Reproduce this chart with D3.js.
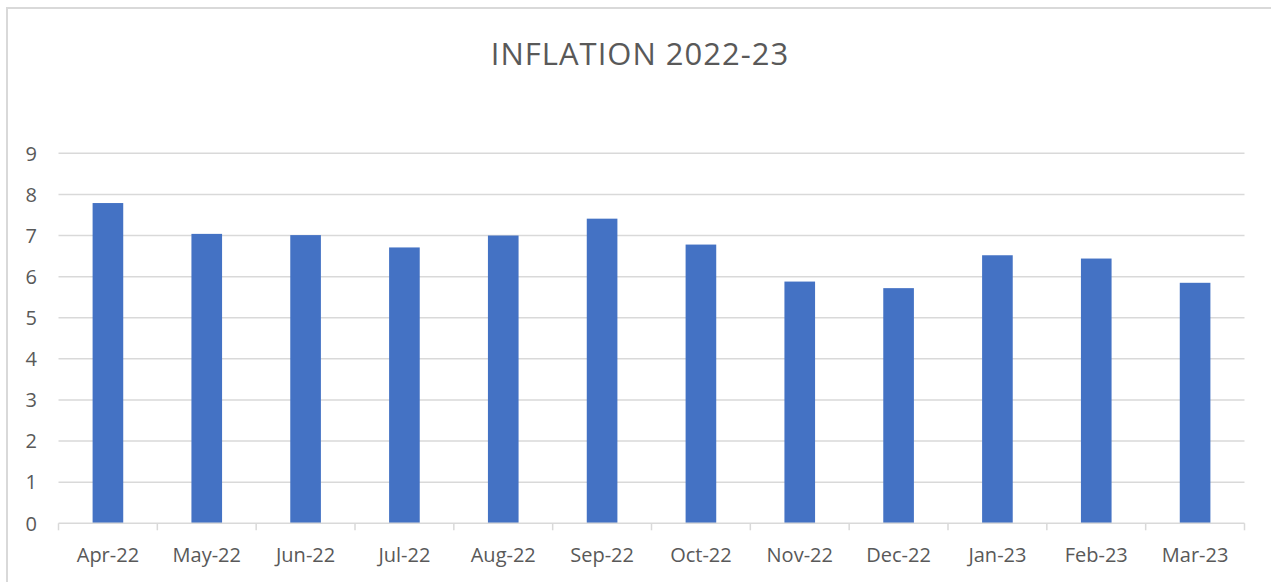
<!DOCTYPE html>
<html>
<head>
<meta charset="utf-8">
<script src="https://cdn.jsdelivr.net/npm/d3@7"></script>
<style>
  html, body { margin: 0; padding: 0; background: #ffffff; }
  svg { display: block; }
</style>
</head>
<body>
<div id="chart"></div>
<script>
const categories = ["Apr-22","May-22","Jun-22","Jul-22","Aug-22","Sep-22","Oct-22","Nov-22","Dec-22","Jan-23","Feb-23","Mar-23"];
const inflation = [7.79, 7.04, 7.01, 6.71, 7.00, 7.41, 6.78, 5.88, 5.72, 6.52, 6.44, 5.85];
const yTicks = [0,1,2,3,4,5,6,7,8,9];
const title = "INFLATION 2022-23";

const W = 1271, H = 582;
const mLeft = 58.5, mRight = 1244.5, mTop = 153.3, mBottom = 523.3;
const textColor = "#595959";
const gridColor = "#d9d9d9";
const barColor = "#4472c4";
const font = "'Open Sans', 'Noto Sans', sans-serif";

const svg = d3.select("#chart").append("svg").attr("width", W).attr("height", H);

// outer frame (partly cropped)
svg.append("rect").attr("x", 7).attr("y", 8).attr("width", W + 20).attr("height", H + 20)
  .attr("fill", "#fff").attr("stroke", gridColor).attr("stroke-width", 2);

const x = d3.scaleBand().domain(categories).range([mLeft, mRight]).paddingInner(0.69).paddingOuter(0.345);
const y = d3.scaleLinear().domain([0, 9]).range([mBottom, mTop]);

// gridlines
svg.append("g").selectAll("line").data(yTicks.filter(d => d > 0)).join("line")
  .attr("x1", mLeft).attr("x2", mRight)
  .attr("y1", d => y(d)).attr("y2", d => y(d))
  .attr("stroke", gridColor).attr("stroke-width", 1.5);

// y labels
svg.append("g").selectAll("text").data(yTicks).join("text")
  .attr("x", 37).attr("y", d => y(d)).attr("dy", "0.36em")
  .attr("text-anchor", "end").attr("font-family", font).attr("font-size", 20)
  .attr("fill", textColor).text(d => d);

// bars
svg.append("g").selectAll("rect").data(inflation).join("rect")
  .attr("x", (d, i) => x(categories[i]))
  .attr("width", x.bandwidth())
  .attr("y", d => y(d))
  .attr("height", d => y(0) - y(d))
  .attr("fill", barColor);

// x axis
const xAxis = d3.axisBottom(x).tickSize(0).tickPadding(25);
const gx = svg.append("g").attr("transform", `translate(0,${mBottom})`).call(xAxis);
gx.select(".domain").remove();
gx.selectAll("text").attr("font-family", font).attr("font-size", 20).attr("fill", textColor);

svg.append("line").attr("x1", mLeft).attr("x2", mRight).attr("y1", mBottom).attr("y2", mBottom)
  .attr("stroke", gridColor).attr("stroke-width", 1.5);

const step = x.step();
const tickPos = d3.range(categories.length + 1).map(i => mLeft + i * step);
svg.append("g").selectAll("line").data(tickPos).join("line")
  .attr("x1", d => d).attr("x2", d => d)
  .attr("y1", mBottom).attr("y2", mBottom + 7)
  .attr("stroke", gridColor).attr("stroke-width", 1.5);

// title
svg.append("text").attr("x", 640).attr("y", 65)
  .attr("text-anchor", "middle").attr("font-family", font).attr("font-size", 31)
  .attr("letter-spacing", 1)
  .attr("fill", textColor).text(title);
</script>
</body>
</html>
